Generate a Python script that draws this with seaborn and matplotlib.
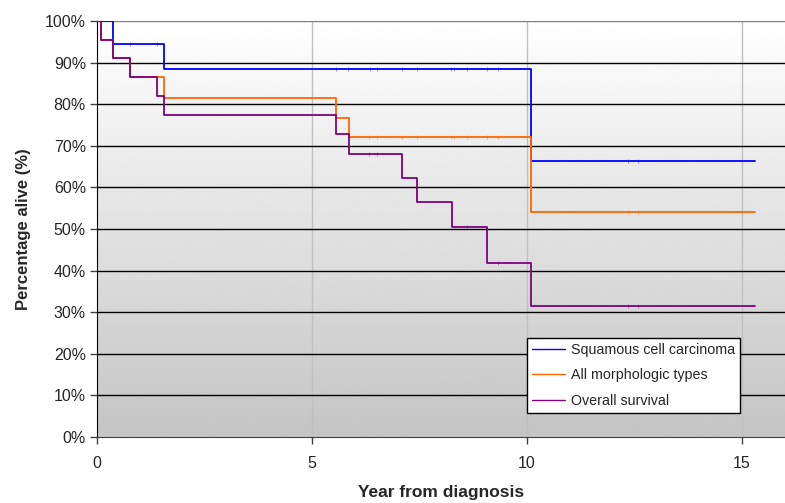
import numpy as np
import pandas as pd
import matplotlib
matplotlib.use('Agg')
import matplotlib.pyplot as plt
import seaborn as sns

# step data (years, % alive)
series_names = ['Squamous cell carcinoma', 'All morphologic types', 'Overall survival']

scc_years = [0, 0.365, 1.56, 10.1, 15.3]
scc_alive = [100, 94.4, 88.4, 66.4, 66.4]

all_years = [0, 0.085, 0.365, 0.775, 1.56, 5.56, 5.85, 10.1, 15.3]
all_alive = [100, 95.5, 91.0, 86.5, 81.6, 76.8, 72.0, 54.0, 54.0]

ovr_years = [0, 0.085, 0.365, 0.775, 1.40, 1.56, 5.56, 5.85, 7.09, 7.44, 8.26, 9.08, 10.1, 15.3]
ovr_alive = [100, 95.5, 91.0, 86.5, 81.9, 77.4, 72.8, 68.0, 62.3, 56.5, 50.5, 41.9, 31.6, 31.6]

# censored times (small tick marks on the curves)
scc_censor = [0.77, 1.40, 5.55, 5.84, 6.34, 6.50, 7.09, 7.44, 8.23, 8.31, 8.61, 9.08, 9.33, 12.36, 12.59]
all_censor = [6.33, 6.50, 7.09, 7.45, 8.23, 8.30, 8.60, 9.08, 9.32, 12.36, 12.59]
ovr_censor = [6.33, 6.50, 8.60, 9.33, 12.36, 12.59]

y_ticks = [0, 10, 20, 30, 40, 50, 60, 70, 80, 90, 100]
y_tick_labels = [f'{v}%' for v in y_ticks]
x_ticks = [0, 5, 10, 15]

colors = ['#0000ff', '#ff6600', '#800080']

sns.set_style('white')
plt.rcParams['font.family'] = ['Liberation Sans', 'DejaVu Sans']

frames = []
for name, t, s in zip(series_names, [scc_years, all_years, ovr_years],
                      [scc_alive, all_alive, ovr_alive]):
    frames.append(pd.DataFrame({'year': t, 'alive': s, 'group': name}))
df = pd.concat(frames, ignore_index=True)

fig = plt.figure(figsize=(7.85, 5.03), dpi=100)
ax = fig.add_axes([97 / 785, 1 - 437 / 503, 688 / 785, 416 / 503])

# grey gradient background
grad = np.linspace(0.77, 1.0, 256).reshape(-1, 1)
ax.imshow(grad, cmap='gray', vmin=0, vmax=1, aspect='auto', origin='lower',
          extent=[0, 1, 0, 1], transform=ax.transAxes, zorder=0)

sns.lineplot(data=df, x='year', y='alive', hue='group', palette=colors,
             hue_order=series_names, drawstyle='steps-post', estimator=None,
             sort=False, linewidth=1.3, ax=ax, zorder=3)

# censor ticks
for t, s, c, col in zip([scc_years, all_years, ovr_years], [scc_alive, all_alive, ovr_alive],
                        [scc_censor, all_censor, ovr_censor], colors):
    idx = np.searchsorted(t, c, side='right') - 1
    ax.plot(c, np.array(s)[idx], ls='none', marker='|', ms=3, mew=0.7,
            color=col, alpha=0.45, zorder=4)

ax.set_xlim(0, 16)
ax.set_ylim(0, 100)
ax.set_yticks(y_ticks)
ax.set_yticklabels(y_tick_labels)
ax.set_xticks(x_ticks)

for v in y_ticks[1:]:
    ax.axhline(v, color='#000000' if v < 100 else '#808080', lw=1, zorder=2)
for v in x_ticks[1:]:
    ax.axvline(v, color='#c0c0c0', lw=1, zorder=1)

for side in ['top', 'right']:
    ax.spines[side].set_visible(False)
ax.spines['left'].set_color('black')
ax.spines['bottom'].set_color('#404040')
ax.tick_params(axis='both', direction='out', length=5, width=1, color='#404040',
               labelsize=11.5, left=True, bottom=True)
ax.tick_params(axis='x', pad=9)
ax.tick_params(axis='y', pad=3)

ax.set_xlabel('Year from diagnosis', fontsize=12.5, fontweight='bold', labelpad=10)
ax.set_ylabel('Percentage alive (%)', fontsize=12, fontweight='bold', labelpad=10)

leg = ax.legend(loc='upper left', bbox_to_anchor=(0.625, 0.238), frameon=True,
                fancybox=False, framealpha=1, edgecolor='black', fontsize=10.3,
                handlelength=2.3, handletextpad=0.4, borderpad=0.35,
                labelspacing=0.8, borderaxespad=0)
leg.get_frame().set_linewidth(1)
for line in leg.get_lines():
    line.set_linewidth(1)

fig.savefig('out.png', dpi=100)
